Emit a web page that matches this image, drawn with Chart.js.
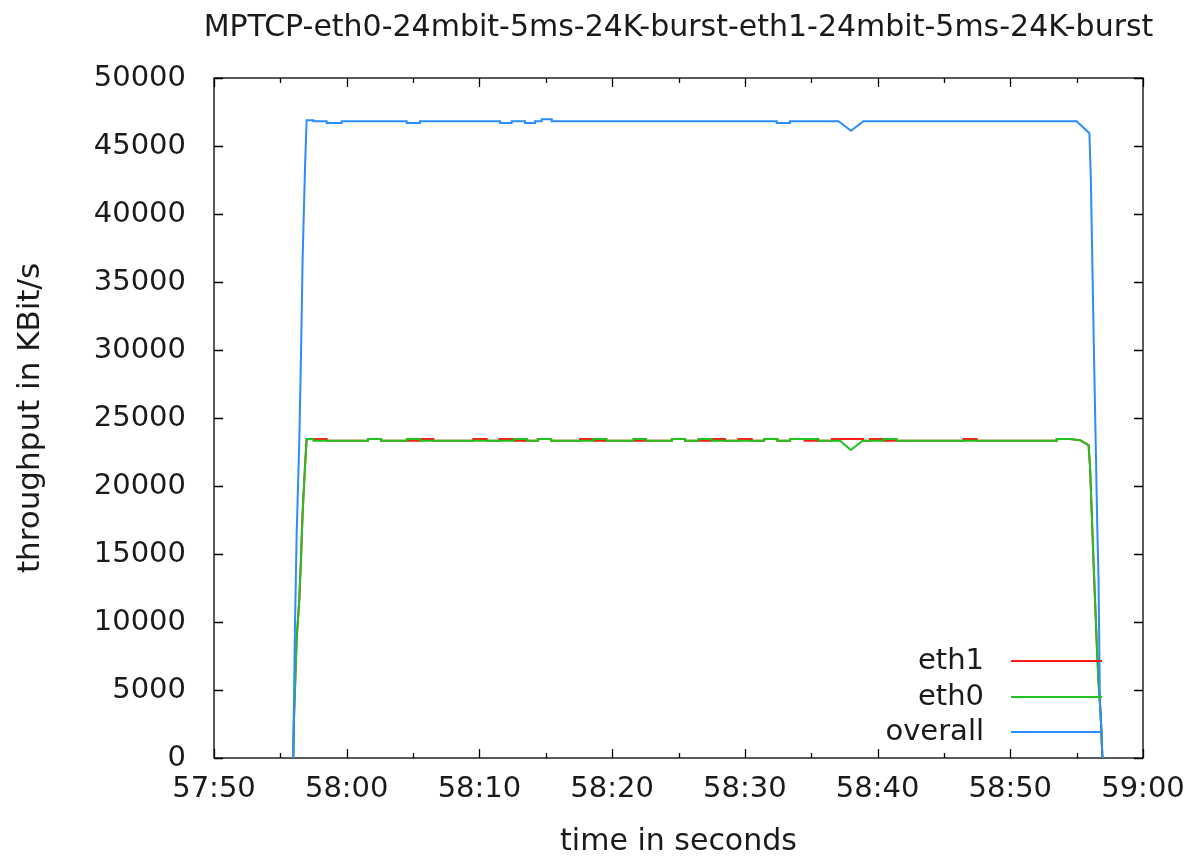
<!DOCTYPE html>
<html>
<head>
<meta charset="utf-8">
<script src="https://cdn.jsdelivr.net/npm/chart.js@4/dist/chart.umd.min.js"></script>
<style>
  html, body { margin: 0; padding: 0; background: #fff; }
  #wrap { width: 1185px; height: 859px; }
</style>
</head>
<body>
<div id="wrap"><canvas id="tput"></canvas></div>
<script>
// x values are seconds after 57:50
const xTickLabels = ['57:50', '58:00', '58:10', '58:20', '58:30', '58:40', '58:50', '59:00'];
const yTicks = [0, 5000, 10000, 15000, 20000, 25000, 30000, 35000, 40000, 45000, 50000];
const seriesNames = ['eth1', 'eth0', 'overall'];
const chartTitle = 'MPTCP-eth0-24mbit-5ms-24K-burst-eth1-24mbit-5ms-24K-burst';

const eth1Times = [5.97, 6.03, 6.23, 6.43, 6.56, 6.68, 6.86, 6.98, 8.49, 8.49,
  11.6, 11.6, 12.6, 12.6, 15.52, 15.52, 16.53, 16.53, 19.54, 19.54, 20.55, 20.55,
  21.5, 21.5, 22.6, 22.6, 24.4, 24.4, 25.4, 25.4, 27.58, 27.58, 28.58, 28.58,
  34.5, 34.5, 35.5, 35.5, 37.5, 37.5, 38.5, 38.5, 39.51, 39.51, 40.52, 40.52,
  41.45, 41.45, 42.45, 42.45, 43.4, 43.4, 44.5, 44.5, 46.55, 46.55, 48.9, 48.9,
  49.43, 49.43, 50.44, 50.44, 56.47, 56.47, 57.47, 57.47, 63.5, 63.5, 64.5,
  65.26, 65.9, 66.01, 66.14, 66.26, 66.39, 66.52, 66.64, 66.77, 66.84, 66.94];
const eth1Values = [0, 3000, 8800, 11700, 14800, 18100, 21500, 23450, 23450, 23330,
  23330, 23450, 23450, 23330, 23330, 23450, 23450, 23330, 23330, 23450, 23450, 23330,
  23330, 23450, 23450, 23330, 23330, 23450, 23450, 23330, 23330, 23450, 23450, 23330,
  23330, 23450, 23450, 23330, 23330, 23450, 23450, 23330, 23330, 23450, 23450, 23330,
  23330, 23450, 23450, 23330, 23330, 23450, 23450, 23330, 23330, 23450, 23450, 23330,
  23330, 23450, 23450, 23330, 23330, 23450, 23450, 23330, 23330, 23450, 23450,
  23370, 23000, 21400, 18000, 14700, 11500, 8300, 5700, 3800, 2500, 0];

const eth0Times = [5.97, 6.03, 6.23, 6.43, 6.56, 6.68, 6.86, 6.98, 7.49, 7.49,
  11.6, 11.6, 12.6, 12.6, 14.52, 14.52, 15.52, 15.52, 22.6, 22.6, 23.6, 23.6,
  24.4, 24.4, 25.4, 25.4, 28.58, 28.58, 29.58, 29.58, 31.6, 31.6, 32.55, 32.55,
  34.5, 34.5, 35.5, 35.5, 36.5, 36.5, 37.5, 37.5, 41.45, 41.45, 42.45, 42.45,
  43.4, 43.4, 45.54, 45.54, 47.17, 47.98, 48.88, 50.44, 50.44, 51.44, 51.44,
  63.5, 63.5, 64.5, 65.26, 65.9, 66.01, 66.14, 66.26, 66.39, 66.52, 66.64, 66.77, 66.84, 66.94];
const eth0Values = [0, 3000, 8800, 11700, 14800, 18100, 21500, 23450, 23450, 23330,
  23330, 23450, 23450, 23330, 23330, 23450, 23450, 23330, 23330, 23450, 23450, 23330,
  23330, 23450, 23450, 23330, 23330, 23450, 23450, 23330, 23330, 23450, 23450, 23330,
  23330, 23450, 23450, 23330, 23330, 23450, 23450, 23330, 23330, 23450, 23450, 23330,
  23330, 23450, 23450, 23330, 23330, 22650, 23330, 23330, 23450, 23450, 23330,
  23330, 23450, 23450, 23370, 23000, 21400, 18000, 14700, 11500, 8300, 5700, 3800, 2500, 0];

const overallTimes = [5.97, 6.1, 6.23, 6.43, 6.56, 6.68, 6.86, 6.98, 7.49, 7.49,
  8.49, 8.49, 9.62, 9.62, 14.52, 14.52, 15.52, 15.52, 21.55, 21.55, 22.43, 22.43,
  23.44, 23.44, 24.19, 24.19, 24.69, 24.69, 25.45, 25.45, 42.4, 42.4, 43.4, 43.4,
  47.05, 48.0, 48.93, 65.0, 65.96, 66.07, 66.19, 66.31, 66.44, 66.55, 66.65, 66.75, 66.85, 66.94];
const overallValues = [0, 9600, 16500, 23400, 29900, 36800, 43500, 46900, 46900, 46820,
  46820, 46690, 46690, 46820, 46820, 46690, 46690, 46820, 46820, 46690, 46690, 46820,
  46820, 46690, 46690, 46820, 46820, 46960, 46960, 46820, 46820, 46690, 46690, 46820,
  46820, 46120, 46820, 46820, 45940, 42590, 36050, 29500, 22970, 17230, 13080, 4150, 2390, 0];

const colors = ['#ff1a1a', '#1fc21f', '#2b8cff'];
const textColor = '#1a1a1a';
const fontFamily = '"DejaVu Sans", sans-serif';

function pairs(ts, vs) {
  return ts.map((t, i) => ({ x: t, y: vs[i] }));
}

// gnuplot style frame: box + inward ticks on all four sides, title, key
const frame = {
  id: 'frame',
  beforeDatasetsDraw(chart) {
    const { ctx, chartArea: a, scales: { x, y } } = chart;
    ctx.save();
    ctx.fillStyle = textColor;
    ctx.font = '30px ' + fontFamily;
    ctx.textAlign = 'center';
    ctx.textBaseline = 'middle';
    ctx.fillText(chartTitle, (a.left + a.right) / 2, 28);

    ctx.strokeStyle = '#000';
    ctx.lineWidth = 1.3;
    ctx.strokeRect(a.left, a.top, a.right - a.left, a.bottom - a.top);
    ctx.beginPath();
    for (let s = 0; s <= 70; s += 5) {
      const px = Math.round(x.getPixelForValue(s)) + 0.5;
      const len = s % 10 === 0 ? 9 : 5;
      ctx.moveTo(px, a.bottom); ctx.lineTo(px, a.bottom - len);
      ctx.moveTo(px, a.top); ctx.lineTo(px, a.top + len);
    }
    yTicks.forEach(v => {
      const py = Math.round(y.getPixelForValue(v)) + 0.5;
      ctx.moveTo(a.left, py); ctx.lineTo(a.left + 9, py);
      ctx.moveTo(a.right, py); ctx.lineTo(a.right - 9, py);
    });
    ctx.stroke();
    ctx.restore();
  },
  afterDatasetsDraw(chart) {
    const { ctx } = chart;
    const rows = [661, 697, 732];
    ctx.save();
    ctx.font = '29px ' + fontFamily;
    ctx.textAlign = 'right';
    ctx.textBaseline = 'middle';
    seriesNames.forEach((name, i) => {
      ctx.fillStyle = textColor;
      ctx.fillText(name, 984, rows[i]);
      ctx.strokeStyle = colors[i];
      ctx.lineWidth = 2;
      ctx.beginPath();
      ctx.moveTo(1011, rows[i]);
      ctx.lineTo(1102, rows[i]);
      ctx.stroke();
    });
    ctx.restore();
  }
};

new Chart(document.getElementById('tput'), {
  type: 'line',
  data: {
    datasets: [
      { label: seriesNames[0], data: pairs(eth1Times, eth1Values), borderColor: colors[0], order: 3 },
      { label: seriesNames[1], data: pairs(eth0Times, eth0Values), borderColor: colors[1], order: 2 },
      { label: seriesNames[2], data: pairs(overallTimes, overallValues), borderColor: colors[2], order: 1 }
    ]
  },
  options: {
    responsive: true,
    maintainAspectRatio: false,
    animation: false,
    layout: { padding: { top: 78, right: 42, bottom: 0, left: 0 } },
    elements: {
      point: { radius: 0 },
      line: { borderWidth: 2, tension: 0, fill: false }
    },
    plugins: {
      legend: { display: false },
      tooltip: { enabled: false },
      title: { display: false }
    },
    scales: {
      x: {
        type: 'linear',
        min: 0,
        max: 70,
        grid: { display: false, drawTicks: false },
        border: { display: false },
        ticks: {
          stepSize: 10,
          autoSkip: false,
          maxRotation: 0,
          padding: 14,
          color: textColor,
          font: { family: fontFamily, size: 29 },
          callback: v => xTickLabels[Math.round(v / 10)]
        },
        title: {
          display: true,
          text: 'time in seconds',
          color: textColor,
          font: { family: fontFamily, size: 30, lineHeight: 1.1 },
          padding: { top: 0, bottom: 0 }
        },
        afterFit: s => { s.height = 101; s.paddingLeft = 0; s.paddingRight = 0; }
      },
      y: {
        min: 0,
        max: 50000,
        grid: { display: false, drawTicks: false },
        border: { display: false },
        ticks: {
          stepSize: 5000,
          padding: 28,
          color: textColor,
          font: { family: fontFamily, size: 29 },
          callback: v => String(v)
        },
        title: {
          display: true,
          text: 'throughput in KBit/s',
          color: textColor,
          font: { family: fontFamily, size: 31 },
          padding: { top: 12, bottom: 0 }
        },
        afterFit: s => { s.width = 214; s.paddingTop = 0; s.paddingBottom = 0; }
      }
    }
  },
  plugins: [frame]
});
</script>
</body>
</html>
